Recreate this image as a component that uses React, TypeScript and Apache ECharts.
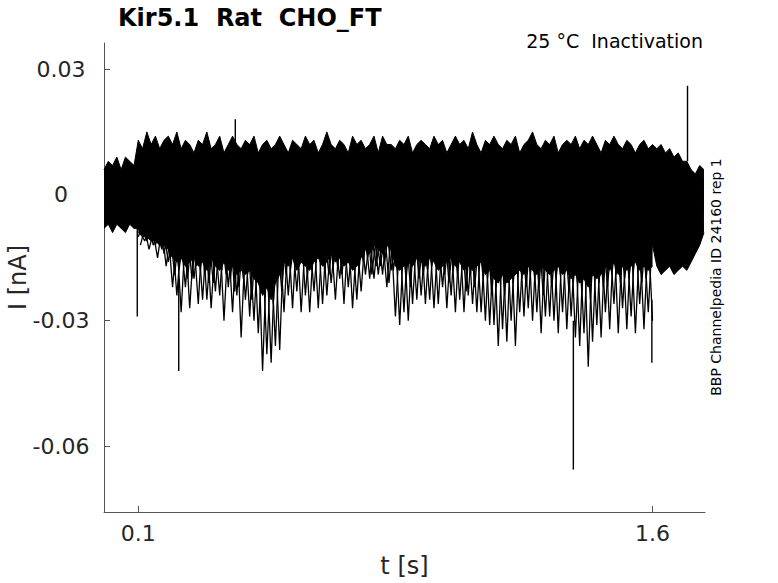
import React, { useEffect, useRef } from "react";
import * as echarts from "echarts";

// ---- data (currents in pA, i.e. 0.001 nA; time in s) ----
const STEP = 0.0125; // sampling step of the digitised envelope

// upper edge of the dense band, samples from t = 0
const upperEdge = [
  6, 8, 7, 9, 6, 9, 8, 7,
  13, 11, 15, 12, 14, 11, 13, 14, 12, 15, 11, 13,
  12, 10, 13, 12, 15, 11, 12, 14, 10, 12, 14, 12,
  11, 13, 12, 14, 10, 12, 13, 11, 12, 14, 12, 10,
  13, 12, 11, 14, 12, 13, 10, 12, 15, 12, 11, 13,
  12, 10, 14, 12, 13, 11, 12, 14, 10, 14, 12, 12,
  11, 13, 12, 14, 10, 12, 13, 12, 11, 14, 12, 13,
  10, 12, 14, 12, 13, 11, 15, 12, 10, 13, 12, 14,
  12, 11, 13, 12, 14, 10, 12, 13, 15, 12, 11, 13,
  12, 14, 10, 12, 13, 12, 14, 11, 13, 12, 14, 12,
  10, 13, 12, 14, 12, 11, 13, 12, 10, 12, 13, 11,
  12, 11, 12, 10, 11, 9, 10, 8, 8, 6, 5, 7, 6,
];

// lower edge of the dense band, samples from t = 0
const lowerEdge = [
  -8, -7, -9, -7, -8, -9, -7, -8,
  -8, -9, -10, -8, -9, -10, -9, -11, -9, -10, -8, -10,
  -9, -8, -10, -9, -11, -8, -9, -10, -8, -9, -11, -9,
  -8, -10, -9, -8, -10, -9, -11, -8, -9, -10, -8, -9,
  -10, -8, -9, -11, -9, -8, -10, -9, -8, -10, -9, -8,
  -9, -10, -8, -9, -11, -8, -9, -10, -8, -9, -10, -9,
  -8, -10, -9, -8, -10, -9, -11, -8, -9, -10, -8, -9,
  -10, -8, -9, -11, -9, -8, -10, -9, -8, -10, -9, -8,
  -9, -10, -8, -9, -11, -8, -9, -10, -8, -9, -10, -9,
  -8, -10, -9, -8, -10, -9, -11, -8, -9, -10, -8, -9,
  -10, -8, -9, -11, -9, -8, -10, -9, -8, -10, -9, -8,
  -12, -17, -19, -18, -17, -19, -18, -17, -18, -16, -14, -12, -9,
];

// where the many overlapping sweeps below the band thin out, samples from t = 0.1
const fringeEdge = [
  -9, -10, -10, -11, -11, -12, -12,
  -13, -15, -16, -15, -17, -16,
  -15, -17, -16, -18, -15, -17, -18, -16, -18, -17, -19,
  -18, -19, -18, -20, -21, -24, -22, -25, -21, -19,
  -16, -17, -15, -18, -16, -17, -18, -16, -15, -17, -16, -14, -16, -15, -17, -16, -18, -17, -15,
  -13, -14, -12, -13, -14, -12, -13,
  -17, -18, -17, -16, -17, -15, -16, -17, -15, -16, -18, -17, -16, -15, -17, -16, -18, -17, -18, -17, -16, -19, -18,
  -20, -21, -19, -21, -20, -19, -18, -19, -17, -18, -19, -17, -18, -19, -18, -17, -19, -18, -20, -19, -21, -20, -22, -19, -20, -19,
  -17, -18, -16, -19, -17, -18, -17, -16, -18, -17, -18, -17,
];

// sweeps reaching below the band, samples from t = 0.1
const traceA = [
  -10, -7, -11, -8, -12, -8, -14, -9, -22, -10,
  -28, -9, -27, -11, -26, -8, -25, -10, -23, -9,
  -30, -10, -28, -8, -34, -11, -29, -9, -33, -12,
  -38, -14, -36, -10, -28, -9, -27, -8, -28, -10,
  -28, -9, -27, -8, -24, -10, -25, -9, -26, -8,
  -27, -10, -23, -9, -20, -8, -19, -10, -22, -9,
  -29, -10, -28, -8, -26, -9, -24, -10, -25, -8,
  -26, -9, -27, -10, -28, -8, -28, -9, -26, -10,
  -28, -9, -31, -10, -36, -11, -35, -9, -36, -10,
  -29, -8, -30, -9, -33, -10, -29, -8, -33, -9,
  -32, -10, -34, -11, -33, -9, -35, -10, -34, -9,
  -32, -8, -33, -10, -32, -9, -33, -10, -32, -9,
  -30,
];
const traceB = [
  -8, -9, -9, -10, -8, -12, -9, -16, -10, -24,
  -11, -22, -9, -20, -10, -25, -9, -27, -11, -24,
  -8, -22, -10, -24, -9, -25, -12, -30, -10, -42,
  -14, -40, -12, -37, -9, -24, -10, -23, -8, -24,
  -10, -23, -9, -26, -8, -21, -10, -20, -9, -22,
  -10, -25, -8, -19, -10, -20, -9, -19, -8, -18,
  -10, -31, -9, -30, -10, -25, -8, -26, -10, -27,
  -9, -22, -10, -24, -8, -25, -10, -24, -9, -28,
  -10, -30, -8, -31, -10, -32, -9, -30, -10, -28,
  -9, -27, -8, -28, -10, -29, -9, -30, -10, -28,
  -8, -29, -10, -36, -9, -41, -10, -31, -9, -28,
  -10, -26, -8, -27, -10, -29, -9, -26, -10, -28,
  -9,
];
// shallower sweeps, samples from t = 0.10625
const traceC = [
  -9, -11, -8, -12, -9, -13, -8, -15, -9, -18,
  -10, -20, -9, -17, -8, -19, -10, -21, -9, -18,
  -8, -20, -10, -22, -9, -19, -8, -21, -10, -24,
  -9, -26, -11, -23, -8, -18, -10, -17, -9, -19,
  -8, -16, -10, -18, -9, -17, -8, -19, -10, -16,
  -9, -18, -8, -15, -10, -17, -9, -16, -8, -18,
  -10, -15, -9, -22, -8, -20, -10, -18, -9, -17,
  -8, -19, -10, -18, -9, -16, -8, -19, -10, -17,
  -9, -20, -8, -22, -10, -24, -9, -21, -8, -20,
  -10, -19, -9, -22, -8, -18, -10, -20, -9, -19,
  -8, -21, -10, -23, -9, -25, -8, -21, -10, -22,
  -9, -19, -8, -20, -10, -18, -9, -21, -8, -19,
];
const traceD = [
  -12, -8, -13, -9, -15, -8, -17, -10, -19, -9,
  -16, -8, -20, -10, -18, -9, -21, -8, -17, -10,
  -19, -9, -23, -8, -20, -10, -25, -9, -22, -8,
  -18, -10, -16, -9, -19, -8, -17, -10, -15, -9,
  -18, -8, -16, -10, -19, -9, -17, -8, -15, -10,
  -18, -9, -16, -8, -19, -10, -17, -9, -21, -8,
  -18, -10, -20, -9, -16, -8, -19, -10, -17, -9,
  -18, -8, -21, -10, -19, -9, -23, -8, -22, -10,
  -20, -9, -24, -8, -19, -10, -21, -9, -18, -8,
  -22, -10, -20, -9, -24, -8, -22, -10, -19, -9,
  -23, -8, -21, -10, -20, -9, -18, -8, -22, -10,
  -19, -9, -21, -8, -20, -10, -17, -9, -20, -9,
];

// isolated spikes
const spikeT = [0.097, 0.218, 0.383, 1.369, 1.598, 1.702];
const spikeFrom = [-8, -20, 12, -30, -25, 8];
const spikeTo = [-29, -42, 18, -65.5, -40, 26];

const X_TICKS = [0.1, 1.6];
const Y_TICKS = [0.03, 0, -0.03, -0.06];

const FONT = "DejaVu Sans";
const toNA = (pA: number) => pA / 1000;

function sampled(t0: number, values: number[]) {
  return values.map((v, k) => [+(t0 + k * STEP).toFixed(5), toNA(v)]);
}

export default function App() {
  const ref = useRef<HTMLDivElement>(null);

  useEffect(() => {
    if (!ref.current) return;
    const chart = echarts.init(ref.current, undefined, { renderer: "svg" });

    const lineBase = {
      type: "line" as const,
      symbol: "none",
      silent: true,
      lineStyle: { color: "#000", width: 1 },
      emphasis: { disabled: true },
    };
    const trace = { ...lineBase, lineStyle: { color: "#000", width: 1.3 } };

    const series: any[] = [
      {
        ...lineBase,
        name: "upper",
        data: sampled(0, upperEdge),
        areaStyle: { color: "#000", opacity: 1, origin: -0.004 },
      },
      {
        ...lineBase,
        name: "lower",
        data: sampled(0, lowerEdge),
        areaStyle: { color: "#000", opacity: 1, origin: 0.004 },
      },
      {
        ...lineBase,
        name: "fringe",
        data: sampled(0.1, fringeEdge),
        areaStyle: { color: "#000", opacity: 1, origin: 0.004 },
      },
      { ...trace, name: "sweepA", data: sampled(0.1, traceA) },
      { ...trace, name: "sweepB", data: sampled(0.1, traceB) },
      { ...trace, name: "sweepC", data: sampled(0.10625, traceC) },
      { ...trace, name: "sweepD", data: sampled(0.10625, traceD) },
      ...spikeT.map((t, k) => ({
        ...lineBase,
        name: "spike" + k,
        lineStyle: { color: "#000", width: 1.4 },
        data: [
          [t, toNA(spikeFrom[k])],
          [t, toNA(spikeTo[k])],
        ],
      })),
    ];

    chart.setOption({
      animation: false,
      backgroundColor: "#fff",
      title: [
        {
          text: "Kir5.1  Rat  CHO_FT",
          left: 118,
          top: 6,
          padding: 0,
          textStyle: { fontFamily: FONT, fontSize: 24, fontWeight: "bold", color: "#000" },
        },
        {
          text: "25 °C  Inactivation",
          right: 75,
          top: 31,
          padding: 0,
          textStyle: { fontFamily: FONT, fontSize: 19, fontWeight: "normal", color: "#000" },
        },
      ],
      graphic: [
        {
          type: "text",
          x: 716,
          y: 277,
          rotation: Math.PI / 2,
          silent: true,
          style: {
            text: "BBP Channelpedia ID 24160 rep 1",
            fontFamily: FONT,
            fontSize: 14,
            fill: "#000",
            align: "center",
            verticalAlign: "middle",
          },
        },
      ],
      grid: {
        left: 104,
        top: 43,
        width: 601,
        height: 469,
        containLabel: false,
        outerBoundsMode: "none",
      },
      xAxis: {
        type: "value",
        min: 0,
        max: 1.753,
        axisLine: { show: true, onZero: false, lineStyle: { color: "#555", width: 1 } },
        axisTick: { show: true, inside: true, length: 6, customValues: X_TICKS, lineStyle: { color: "#555" } },
        axisLabel: {
          customValues: X_TICKS,
          margin: 10,
          fontFamily: FONT,
          fontSize: 22,
          color: "#262626",
          formatter: (v: number) => String(v),
        },
        splitLine: { show: false },
        name: "t [s]",
        nameLocation: "middle",
        nameGap: 42,
        nameMoveOverlap: false,
        nameTextStyle: { fontFamily: FONT, fontSize: 24, color: "#262626" },
      },
      yAxis: {
        type: "value",
        min: -0.0756,
        max: 0.0362,
        axisLine: { show: true, onZero: false, lineStyle: { color: "#555", width: 1 } },
        axisTick: { show: true, inside: true, length: 6, customValues: Y_TICKS, lineStyle: { color: "#555" } },
        axisLabel: {
          customValues: Y_TICKS,
          margin: 43,
          align: "center",
          fontFamily: FONT,
          fontSize: 22,
          color: "#262626",
          formatter: (v: number) => String(v),
        },
        splitLine: { show: false },
        name: "I [nA]",
        nameLocation: "middle",
        nameGap: 74,
        nameMoveOverlap: false,
        nameTextStyle: { fontFamily: FONT, fontSize: 24, color: "#262626" },
      },
      series,
    });

    return () => chart.dispose();
  }, []);

  return (
    <div
      ref={ref}
      style={{ position: "absolute", left: 0, top: 0, width: 778, height: 583, background: "#fff" }}
    />
  );
}
